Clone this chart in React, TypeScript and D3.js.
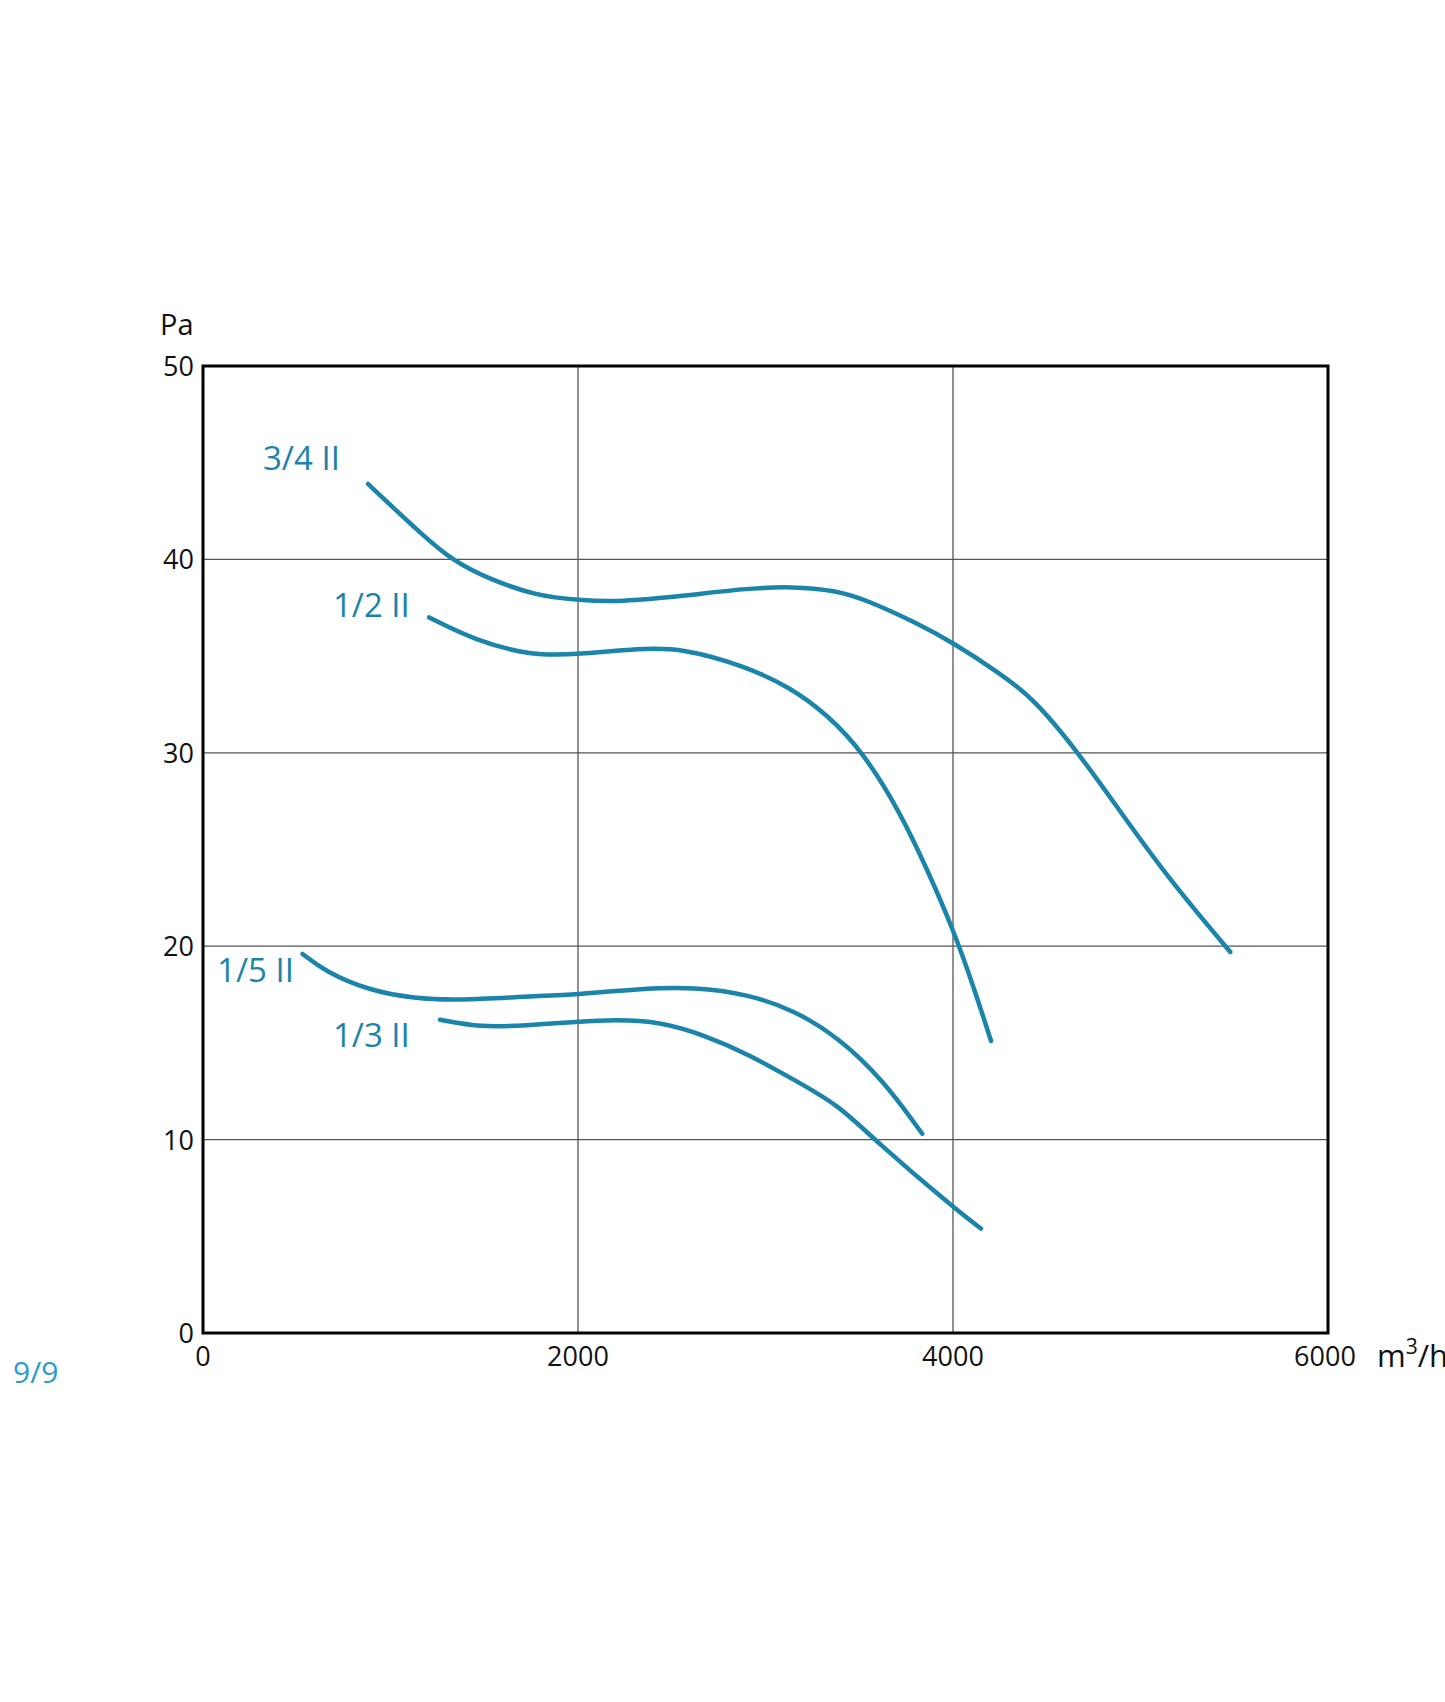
import React from "react";
import * as d3 from "d3";

const xTicks = [0, 2000, 4000, 6000];
const yTicks = [0, 10, 20, 30, 40, 50];

const curve34: [number, number][] = [[880,43.9],[1012,42.7],[1167,41.3],[1321,40.0],[1519,39.0],[1784,38.1],[2000,37.9],[2225,37.8],[2556,38.1],[2886,38.5],[3150,38.6],[3371,38.4],[3541,37.9],[3808,36.7],[4000,35.7],[4252,34.1],[4430,32.8],[4661,30.1],[4875,27.2],[5141,23.6],[5479,19.7]];
const curve12: [number, number][] = [[1206,37.0],[1453,35.8],[1762,35.0],[2000,35.1],[2335,35.4],[2556,35.4],[2886,34.5],[3129,33.4],[3327,32.0],[3524,30.0],[3719,26.9],[3861,24.0],[4000,20.9],[4110,17.9],[4203,15.1]];
const curve15: [number, number][] = [[531,19.6],[650,18.7],[888,17.7],[1126,17.3],[1364,17.2],[1721,17.4],[2000,17.5],[2317,17.8],[2626,17.9],[2912,17.5],[3150,16.7],[3388,15.3],[3626,13.1],[3836,10.3]];
const curve13: [number, number][] = [[1264,16.2],[1483,15.8],[1721,15.9],[2000,16.1],[2198,16.2],[2436,16.1],[2674,15.4],[2912,14.4],[3150,13.1],[3388,11.8],[3579,10.0],[4000,6.5],[4149,5.4]];

const seriesNames = ["3/4 II", "1/2 II", "1/5 II", "1/3 II"];
const seriesData = [curve34, curve12, curve15, curve13];
// label anchor (value coords): left x, baseline y
const labelPos: [number, number][] = [[320, 44.6], [693, 37.0], [75, 18.15], [693, 14.8]];

export default function App() {
  const left = 203, right = 1328, top = 366, bottom = 1333;
  const x = d3.scaleLinear().domain([0, 6000]).range([left, right]);
  const y = d3.scaleLinear().domain([0, 50]).range([bottom, top]);
  const line = d3.line<[number, number]>()
    .x(d => x(d[0]))
    .y(d => y(d[1]))
    .curve(d3.curveBasis);
  const blue = "#1b84ab";
  const font = "'Open Sans', 'Noto Sans', sans-serif";
  return (
    <svg width={1445} height={1702} style={{ position: "absolute", left: 0, top: 0, background: "#fff" }} fontFamily={font}>
      {xTicks.slice(1, -1).map(t => (
        <line key={"gx" + t} x1={x(t)} x2={x(t)} y1={top} y2={bottom} stroke="#555" strokeWidth={1.3} />
      ))}
      {yTicks.slice(1, -1).map(t => (
        <line key={"gy" + t} x1={left} x2={right} y1={y(t)} y2={y(t)} stroke="#555" strokeWidth={1.3} />
      ))}
      <rect x={left} y={top} width={right - left} height={bottom - top} fill="none" stroke="#000" strokeWidth={3} />
      {yTicks.map(t => (
        <text key={"yl" + t} x={left - 9} y={y(t) + 10} textAnchor="end" fontSize={27} fill="#111">{t}</text>
      ))}
      {xTicks.map(t => (
        <text key={"xl" + t} x={x(t) - (t === 6000 ? 3 : 0)} y={1366} textAnchor="middle" fontSize={27} fill="#111">{t}</text>
      ))}
      <text x={160} y={335} fontSize={29} fill="#111">Pa</text>
      <text x={1377} y={1367} fontSize={31} fill="#111">m<tspan dy={-13} fontSize={21}>3</tspan><tspan dy={13}>/h</tspan></text>
      <text x={13} y={1383} fontSize={30} fill="#2a9ccb">9/9</text>
      {seriesData.map((d, i) => (
        <path key={"c" + i} d={line(d) || ""} fill="none" stroke={blue} strokeWidth={4.5} strokeLinecap="round" />
      ))}
      {seriesNames.map((n, i) => (
        <text key={"n" + i} x={x(labelPos[i][0])} y={y(labelPos[i][1])} fontSize={33} fill={blue}>{n}</text>
      ))}
    </svg>
  );
}
